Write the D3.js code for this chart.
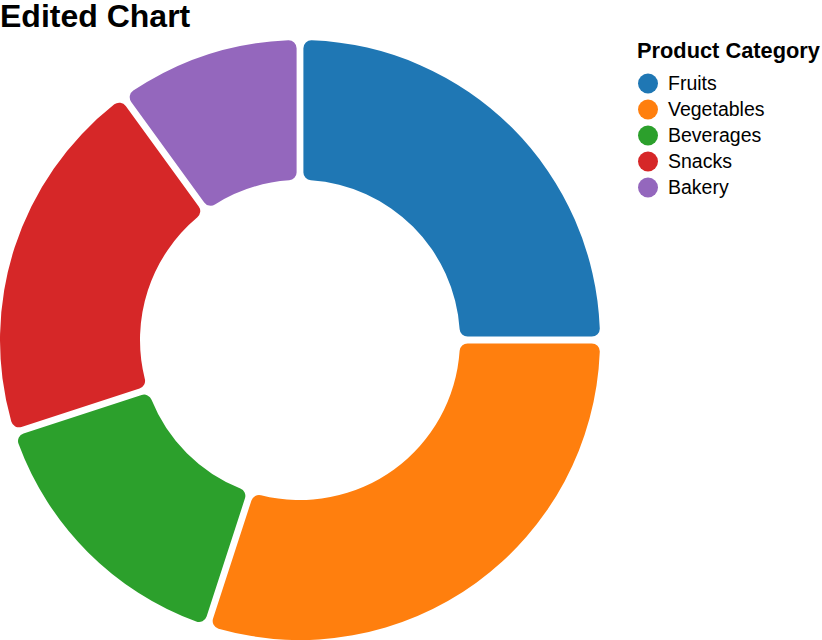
<!DOCTYPE html>
<html>
<head>
<meta charset="utf-8">
<script src="https://cdn.jsdelivr.net/npm/d3@7"></script>
<style>
  body { margin: 0; background: #fff; }
  text { font-family: "Liberation Sans", Arial, Helvetica, sans-serif; }
</style>
</head>
<body>
<svg id="chart" width="822" height="640"></svg>
<script>
var categories = ["Fruits", "Vegetables", "Beverages", "Snacks", "Bakery"];
var shares = [25, 30, 15, 20, 10];
var colors = ["#1f77b4", "#ff7f0e", "#2ca02c", "#d62728", "#9467bd"];

var svg = d3.select("#chart");
var cx = 300, cy = 340;
var outerR = 300, innerR = 160;

svg.append("text")
    .attr("x", 0)
    .attr("y", 27)
    .attr("font-size", "32px")
    .attr("font-weight", "bold")
    .attr("fill", "#000")
    .text("Edited Chart");

var color = d3.scaleOrdinal().domain(categories).range(colors);

var rows = categories.map(function (c, i) { return { cat: c, value: shares[i] }; });

var pie = d3.pie()
    .sort(null)
    .value(function (d) { return d.value; });

var arc = d3.arc()
    .innerRadius(innerR)
    .outerRadius(outerR)
    .padAngle(0.02)
    .cornerRadius(8);

var g = svg.append("g").attr("transform", "translate(" + cx + "," + cy + ")");
g.selectAll("path")
    .data(pie(rows))
    .enter()
    .append("path")
    .attr("d", arc)
    .attr("fill", function (d) { return color(d.data.cat); });

// legend
var legend = svg.append("g").attr("transform", "translate(637,0)");
legend.append("text")
    .attr("x", 0)
    .attr("y", 58)
    .attr("font-size", "21.8px")
    .attr("font-weight", "bold")
    .attr("fill", "#000")
    .text("Product Category");

var item = legend.selectAll("g.item")
    .data(categories)
    .enter()
    .append("g")
    .attr("class", "item")
    .attr("transform", function (d, i) { return "translate(0," + (83.5 + i * 26) + ")"; });

item.append("circle")
    .attr("cx", 11)
    .attr("cy", 0)
    .attr("r", 10)
    .attr("fill", function (d) { return color(d); });

item.append("text")
    .attr("x", 31)
    .attr("y", 6.5)
    .attr("font-size", "19.5px")
    .attr("fill", "#000")
    .text(function (d) { return d; });
</script>
</body>
</html>
